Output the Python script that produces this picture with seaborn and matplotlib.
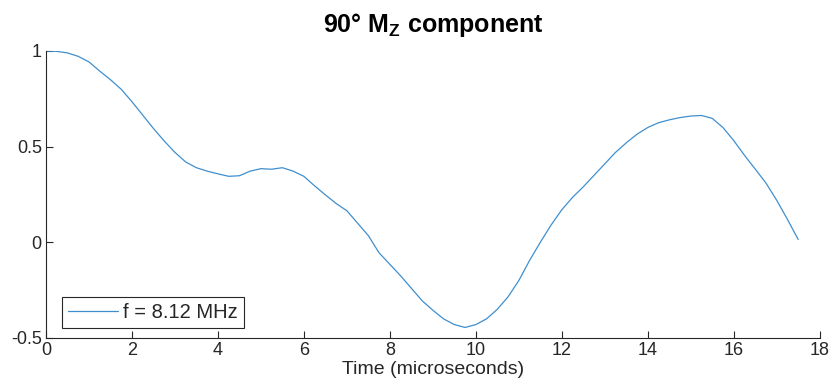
import numpy as np
import pandas as pd
import matplotlib
matplotlib.use("Agg")
import matplotlib.pyplot as plt
import seaborn as sns
from matplotlib.ticker import FuncFormatter

# time in microseconds and Mz component
time_us = [0, 0.25, 0.5, 0.75, 1.0, 1.25, 1.5, 1.75, 2.0, 2.25, 2.5, 2.75,
           3.0, 3.25, 3.5, 3.75, 4.0, 4.25, 4.5, 4.75, 5.0, 5.25, 5.5, 5.75,
           6.0, 6.25, 6.5, 6.75, 7.0, 7.25, 7.5, 7.75, 8.0, 8.25, 8.5, 8.75,
           9.0, 9.25, 9.5, 9.75, 10.0, 10.25, 10.5, 10.75, 11.0, 11.25, 11.5,
           11.75, 12.0, 12.25, 12.5, 12.75, 13.0, 13.25, 13.5, 13.75, 14.0,
           14.25, 14.5, 14.75, 15.0, 15.25, 15.5, 15.75, 16.0, 16.25, 16.5,
           16.75, 17.0, 17.25, 17.5]
mz = [1.0, 0.998, 0.99, 0.972, 0.943, 0.895, 0.85, 0.80, 0.735, 0.665, 0.595, 0.53,
      0.47, 0.42, 0.39, 0.372, 0.358, 0.345, 0.348, 0.372, 0.385, 0.382, 0.39, 0.372,
      0.345, 0.295, 0.248, 0.203, 0.165, 0.1, 0.035, -0.055, -0.115, -0.175, -0.24, -0.305,
      -0.355, -0.4, -0.43, -0.445, -0.43, -0.4, -0.35, -0.285, -0.2, -0.095, 0.0,
      0.09, 0.17, 0.235, 0.29, 0.35, 0.41, 0.47, 0.52, 0.565, 0.6,
      0.625, 0.64, 0.652, 0.66, 0.663, 0.648, 0.6, 0.532, 0.455, 0.383,
      0.31, 0.22, 0.12, 0.015]
series_label = "f = 8.12 MHz"
x_ticks = [0, 2, 4, 6, 8, 10, 12, 14, 16, 18]
y_ticks = [-0.5, 0, 0.5, 1]

df = pd.DataFrame({"t": time_us, "mz": mz})

sns.set_style("ticks")
plt.rcParams["font.family"] = ["Liberation Sans", "DejaVu Sans"]
plt.rcParams["mathtext.fontset"] = "custom"
plt.rcParams["mathtext.rm"] = "Liberation Sans"
plt.rcParams["mathtext.bf"] = "Liberation Sans:bold"

axis_gray = "#262626"

fig = plt.figure(figsize=(8.33, 3.92), dpi=100)
ax = fig.add_axes([0.0552, 0.1378, 0.9288, 0.7321])

sns.lineplot(data=df, x="t", y="mz", ax=ax, color="#3f8fcf", linewidth=0.9,
             label=series_label)

ax.set_xlim(0, 18)
ax.set_ylim(-0.5, 1)
ax.set_xticks(x_ticks)
ax.set_yticks(y_ticks)
ax.yaxis.set_major_formatter(FuncFormatter(lambda v, p: f"{v:g}"))
ax.tick_params(direction="in", length=5, width=0.8, colors=axis_gray,
               labelsize=13, pad=3)
for side in ["top", "right"]:
    ax.spines[side].set_visible(False)
for side in ["left", "bottom"]:
    ax.spines[side].set_color(axis_gray)
    ax.spines[side].set_linewidth(0.8)

ax.set_xlabel("Time (microseconds)", fontsize=14, color=axis_gray, labelpad=1)
ax.set_ylabel("")
ax.set_title(r"90° M$_\mathbf{Z}$ component", fontsize=18, fontweight="bold",
             color="black", pad=14)

leg = ax.legend(loc="lower left", bbox_to_anchor=(0.015, 0.022), fontsize=14.5,
                frameon=True, fancybox=False, handlelength=2.5,
                borderpad=0.3, handletextpad=0.25, borderaxespad=0.2)
leg.get_frame().set_edgecolor(axis_gray)
leg.get_frame().set_linewidth(0.8)
leg.get_frame().set_alpha(1)

fig.savefig("out.png", dpi=100)
